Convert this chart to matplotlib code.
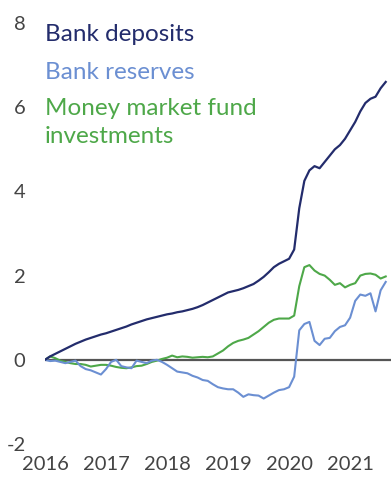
import matplotlib
matplotlib.use("Agg")
import matplotlib.pyplot as plt
import numpy as np

# monthly observations, Jan 2016 .. Aug 2021 (change since Jan 2016, trillions)
start_year = 2016
years = [2016, 2017, 2018, 2019, 2020, 2021]

bank_deposits = [
    0.00, 0.08, 0.14, 0.20, 0.26, 0.32, 0.38, 0.43, 0.48, 0.52, 0.56, 0.60,
    0.63, 0.67, 0.71, 0.75, 0.79, 0.84, 0.88, 0.92, 0.96, 0.99, 1.02, 1.05,
    1.08, 1.10, 1.13, 1.15, 1.18, 1.21, 1.25, 1.30, 1.36, 1.42, 1.48, 1.54,
    1.60, 1.63, 1.66, 1.70, 1.75, 1.80, 1.88, 1.97, 2.08, 2.20, 2.28, 2.34,
    2.40, 2.62, 3.60, 4.25, 4.50, 4.60, 4.55, 4.70, 4.85, 5.00, 5.10, 5.25,
    5.45, 5.65, 5.90, 6.10, 6.20, 6.25, 6.45, 6.60,
]

bank_reserves = [
    0.00, -0.03, -0.02, -0.05, -0.08, -0.05, -0.02, -0.15, -0.22, -0.25, -0.30, -0.35,
    -0.22, -0.05, 0.00, -0.15, -0.18, -0.20, -0.02, -0.05, -0.08, -0.02, 0.00, -0.05,
    -0.12, -0.20, -0.28, -0.30, -0.32, -0.38, -0.42, -0.48, -0.50, -0.58, -0.65, -0.68,
    -0.70, -0.70, -0.78, -0.88, -0.82, -0.84, -0.85, -0.92, -0.85, -0.78, -0.72, -0.70,
    -0.65, -0.40, 0.70, 0.85, 0.90, 0.45, 0.35, 0.50, 0.52, 0.68, 0.78, 0.82,
    1.00, 1.40, 1.55, 1.52, 1.58, 1.15, 1.65, 1.85,
]

mmf_investments = [
    0.00, 0.08, 0.04, -0.02, -0.05, -0.08, -0.10, -0.10, -0.12, -0.16, -0.14, -0.12,
    -0.12, -0.14, -0.17, -0.19, -0.20, -0.18, -0.15, -0.14, -0.10, -0.05, -0.02, 0.02,
    0.05, 0.10, 0.06, 0.08, 0.07, 0.05, 0.06, 0.07, 0.06, 0.08, 0.15, 0.22,
    0.32, 0.40, 0.45, 0.48, 0.52, 0.60, 0.68, 0.78, 0.88, 0.95, 0.98, 0.98,
    0.98, 1.05, 1.75, 2.20, 2.25, 2.12, 2.04, 2.00, 1.90, 1.78, 1.82, 1.72,
    1.78, 1.82, 2.00, 2.04, 2.05, 2.02, 1.93, 1.98,
]

NAVY = "#232c6c"
LIGHT_BLUE = "#6b8fd2"
GREEN = "#4ea849"
TICK_GREY = "#444444"

plt.rcParams["font.family"] = ["Lato", "DejaVu Sans"]

fig = plt.figure(figsize=(3.91, 4.79), dpi=100)
ax = fig.add_axes([45 / 391, 35 / 479, 346 / 391, 421 / 479])

x = start_year + np.arange(len(bank_deposits)) / 12

ax.axhline(0, color="#555555", linewidth=1.6, zorder=1)
ax.plot(x, mmf_investments, color=GREEN, linewidth=1.5, zorder=2)
ax.plot(x, bank_reserves, color=LIGHT_BLUE, linewidth=1.5, zorder=3)
ax.plot(x, bank_deposits, color=NAVY, linewidth=1.6, zorder=4)

ax.set_xlim(2016, 2021.67)
ax.set_ylim(-2, 8)
ax.set_xticks(years)
ax.set_xticklabels([str(y) for y in years])
ax.set_yticks([-2, 0, 2, 4, 6, 8])
ax.set_yticklabels(["-2", "0", "2", "4", "6", "8"])
ax.tick_params(length=0, labelsize=14.5, colors=TICK_GREY)
ax.tick_params(axis="y", pad=14)
ax.tick_params(axis="x", pad=9)
for spine in ax.spines.values():
    spine.set_visible(False)

legend_x = 45 / 391
fig.text(legend_x, 1 - 41 / 479, "Bank deposits", color=NAVY, fontsize=17.5, va="baseline")
fig.text(legend_x, 1 - 79 / 479, "Bank reserves", color=LIGHT_BLUE, fontsize=17.5, va="baseline")
fig.text(legend_x, 1 - 115 / 479, "Money market fund", color=GREEN, fontsize=17.5, va="baseline")
fig.text(legend_x, 1 - 143 / 479, "investments", color=GREEN, fontsize=17.5, va="baseline")

fig.savefig("out.png", dpi=100)
plt.close(fig)
